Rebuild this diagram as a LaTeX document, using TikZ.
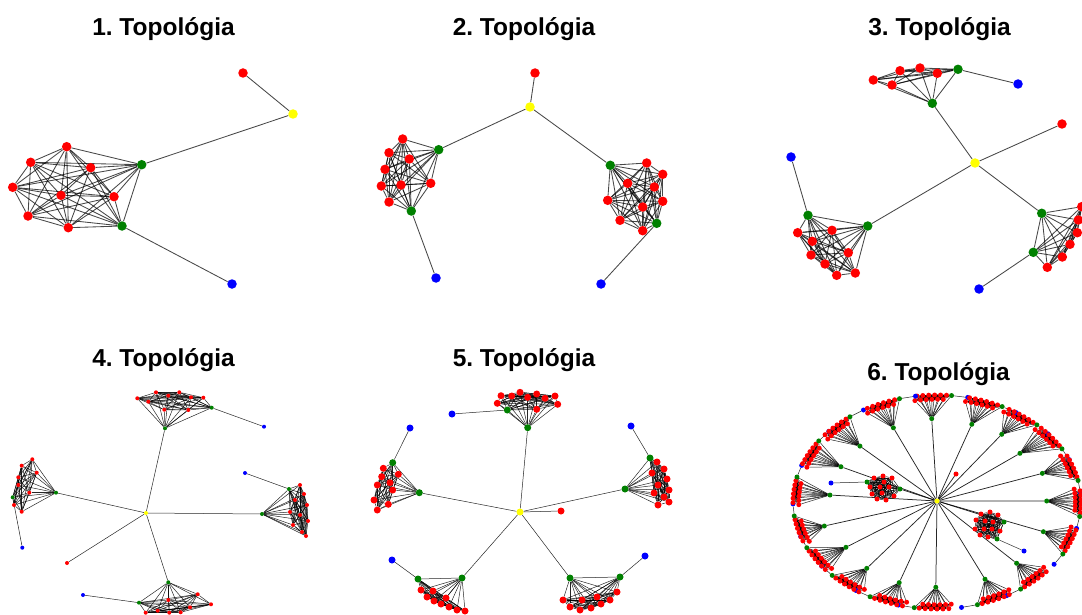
\documentclass[tikz,border=0pt]{standalone}
\usepackage{fontspec}
\setmainfont{Liberation Sans}
\frenchspacing
\pgfdeclarelayer{bg}\pgfsetlayers{bg,main}
\definecolor{nr}{RGB}{255,0,0}
\definecolor{ng}{RGB}{0,128,0}
\definecolor{nb}{RGB}{0,0,255}
\definecolor{ny}{RGB}{255,255,0}
\tikzset{
  edge/.style={draw=black, line width=0.85pt, opacity=0.72},
  edgeB/.style={draw=black, line width=0.5pt, opacity=0.85},
  dA/.style={circle, inner sep=0pt, minimum size=9.5pt, draw=none},
  dB/.style={circle, inner sep=0pt, minimum size=4pt, draw=none},
  dC/.style={circle, inner sep=0pt, minimum size=7pt, draw=none},
  dD/.style={circle, inner sep=0pt, minimum size=5pt, draw=none},
  ttl/.style={anchor=base, font=\bfseries\fontsize{24.5}{28}\selectfont},
}
% clique among #2 1..#3
\newcommand{\cl}[3][]{\foreach \ia in {1,...,#3}{\foreach \ib in {1,...,#3}{\ifnum\ib>\ia \draw[edge,#1] (#2\ia)--(#2\ib);\fi}}}
\newcommand{\mk}[3]{\foreach \x/\y/\c [count=\k] in {#3}{\node[#1,fill=\c] (#2\k) at (\x,\y) {};}}
\begin{document}
\begin{tikzpicture}[x=1pt,y=-1pt]
\useasboundingbox (0,0) rectangle (1082,615);
\begin{pgfonlayer}{bg}
\fill[white] (0,0) rectangle (1082,615);
\end{pgfonlayer}
% titles
\node[ttl] (h1) at (163.5,36) {1. Topológia};
\node[ttl] (h2) at (524,36) {2. Topológia};
\node[ttl] (h3) at (939.5,36) {3. Topológia};
\node[ttl] (h4) at (163.5,366) {4. Topológia};
\node[ttl] (h5) at (524,366) {5. Topológia};
\node[ttl] (h6) at (938.5,380) {6. Topológia};

% ---------- Topology 1
\mk{dA}{t1c}{66.7/146.7/nr,30.7/162.3/nr,90.7/167.7/nr,12.7/187.3/nr,61/195.3/nr,114/196.7/nr,28/216/nr,68.3/227.7/nr,141.7/164.7/ng,122/226/ng}
\node[dA,fill=ny] (t1y) at (293,114) {};
\node[dA,fill=nr] (t1r) at (243,73) {};
\node[dA,fill=nb] (t1b) at (232,284) {};
\begin{pgfonlayer}{bg}
\cl{t1c}{10}
\draw[edge] (t1y)--(t1r); \draw[edge] (t1y)--(t1c9); \draw[edge] (t1c10)--(t1b);
\end{pgfonlayer}

% ---------- Topology 2
\mk{dA}{t2a}{402.7/139/nr,389/152.7/nr,409.3/159/nr,385/169.3/nr,381.3/186/nr,401/185/nr,430.7/183.3/nr,389/202/nr,438.7/149.7/ng,411.3/211/ng}
\mk{dA}{t2b}{646.7/163/nr,662.7/174.3/nr,627.7/183.3/nr,654.3/187/nr,607.7/200.3/nr,662.7/201.3/nr,642.7/207/nr,620/220.3/nr,642.7/230.7/nr,610.3/165.3/ng,656.7/223.3/ng}
\node[dA,fill=ny] (t2y) at (530,107) {};
\node[dA,fill=nr] (t2r) at (535,73) {};
\node[dA,fill=nb] (t2xl) at (436,278) {};
\node[dA,fill=nb] (t2xr) at (601,284) {};
\begin{pgfonlayer}{bg}
\cl{t2a}{10}\cl{t2b}{11}
\draw[edge] (t2y)--(t2r); \draw[edge] (t2y)--(t2a9); \draw[edge] (t2a10)--(t2xl);
\draw[edge] (t2y)--(t2b10); \draw[edge] (t2b11)--(t2xr);
\end{pgfonlayer}

% ---------- Topology 3
\mk{dA}{t3a}{873.3/80/nr,900/70.7/nr,920/68/nr,937.3/73.3/nr,892/85/nr,958/69.3/ng,932.3/103.3/ng}
\mk{dA}{t3b}{797.7/232.7/nr,832/230.3/nr,812.3/241.3/nr,811/255/nr,848.3/252.7/nr,825/264/nr,836.7/275.3/nr,855.3/273/nr,808/215.3/ng,867.7/226/ng}
\mk{dA}{t3c}{1081.7/206.7/nr,1078.3/220/nr,1077.3/232.7/nr,1070/244.3/nr,1062.3/257/nr,1047.3/267.3/nr,1041.7/213.3/ng,1033.3/252.3/ng}
\node[dA,fill=ny] (t3y) at (975,163) {};
\node[dA,fill=nr] (t3r) at (1062,124) {};
\node[dA,fill=nb] (t3x1) at (1018,84) {};
\node[dA,fill=nb] (t3x2) at (791,157) {};
\node[dA,fill=nb] (t3x3) at (979,289) {};
\begin{pgfonlayer}{bg}
\cl{t3a}{7}\cl{t3b}{10}\cl{t3c}{8}
\draw[edge] (t3y)--(t3r); \draw[edge] (t3a6)--(t3x1); \draw[edge] (t3a7)--(t3y);
\draw[edge] (t3x2)--(t3b9); \draw[edge] (t3b10)--(t3y);
\draw[edge] (t3y)--(t3c7); \draw[edge] (t3c8)--(t3x3);
\end{pgfonlayer}

% ---------- Topology 4
\mk{dB}{t4a}{137.3/398.3/nr,156/392.3/nr,179.3/392.3/nr,168.3/395.7/nr,191/397.3/nr,203.3/397.7/nr,148.3/401.7/nr,164.3/409.7/nr,188.3/410/nr,211.7/407.7/ng,165/428.3/ng}
\mk{dB}{t4b}{32.3/459.3/nr,21.7/465.7/nr,36.7/472.7/nr,18.3/477.3/nr,18.3/485/nr,29.3/492.7/nr,14/505/nr,21.7/511.7/nr,12.7/497.3/ng,56/492.7/ng}
\mk{dB}{t4c}{300/485/nr,304/494/nr,295/500/nr,307/505/nr,290/512/nr,300/515/nr,308/521/nr,293/525/nr,302/532/nr,306/536/nr,289/489/ng,262/514/ng}
\mk{dB}{t4d}{197.7/594.3/nr,168.3/600/nr,190/607.3/nr,211/604.3/nr,157.7/610.7/nr,180.7/612.3/nr,145.7/612.7/nr,169.3/612.7/nr,139/602.7/ng,168.3/582.3/ng}
\node[dB,fill=ny] (t4y) at (146,513) {};
\node[dB,fill=nr] (t4r) at (67,563) {};
\node[dB,fill=nb] (t4xa) at (264,426.7) {};
\node[dB,fill=nb] (t4xb) at (22.3,547.7) {};
\node[dB,fill=nb] (t4xc) at (245,473) {};
\node[dB,fill=nb] (t4xd) at (83,595) {};
\begin{pgfonlayer}{bg}
\cl[edgeB]{t4a}{11}\cl[edgeB]{t4b}{10}\cl[edgeB]{t4c}{12}\cl[edgeB]{t4d}{10}
\draw[edgeB] (t4y)--(t4r);
\draw[edgeB] (t4y)--(t4a11); \draw[edgeB] (t4a10)--(t4xa);
\draw[edgeB] (t4y)--(t4b10); \draw[edgeB] (t4b9)--(t4xb);
\draw[edgeB] (t4y)--(t4c12); \draw[edgeB] (t4c11)--(t4xc);
\draw[edgeB] (t4y)--(t4d10); \draw[edgeB] (t4d9)--(t4xd);
\end{pgfonlayer}

% ---------- Topology 5
\mk{dC}{t5a}{501/395.7/nr,511.7/396/nr,520/392.3/nr,527.7/397.3/nr,536.7/394/nr,545/398.3/nr,555/396/nr,497.3/403.3/nr,536.7/409.3/nr,557.7/404.3/nr,507.3/410/ng,527.7/427.7/ng}
\mk{dC}{t5b}{383.3/468.3/nr,398.3/474.3/nr,381.7/476.7/nr,377.3/485/nr,390/482.7/nr,392.7/490/nr,374/500/nr,388.3/504.3/nr,377.3/510/nr,392.7/462.7/ng,419.3/492.7/ng}
\mk{dC}{t5c}{657/462/nr,664/469/nr,652/473/nr,667/479/nr,658/485/nr,669/490/nr,654/493/nr,664/497/nr,669/502/nr,658/505/nr,650/458/ng,625/489/ng}
\mk{dC}{t5d}{421/590/nr,427/597/nr,434/601/nr,441/604/nr,449/607/nr,457/610/nr,465/611/nr,433/591/nr,446/598/nr,418/579/ng,462/578/ng}
\mk{dC}{t5e}{563/600/nr,570/607/nr,580/610/nr,591/608/nr,601/604/nr,610/600/nr,617/592/nr,582/600/nr,597/597/nr,620/577/ng,570/578/ng}
\node[dC,fill=ny] (t5y) at (520,512) {};
\node[dC,fill=nr] (t5r) at (561,511) {};
\node[dC,fill=nb] (t5xa) at (452,414) {};
\node[dC,fill=nb] (t5xb) at (410,428) {};
\node[dC,fill=nb] (t5xc) at (631,426) {};
\node[dC,fill=nb] (t5xd) at (392,560) {};
\node[dC,fill=nb] (t5xe) at (645,556) {};
\begin{pgfonlayer}{bg}
\cl[edgeB]{t5a}{12}\cl[edgeB]{t5b}{11}\cl[edgeB]{t5c}{12}\cl[edgeB]{t5d}{11}\cl[edgeB]{t5e}{11}
\draw[edgeB] (t5y)--(t5r);
\draw[edgeB] (t5y)--(t5a12); \draw[edgeB] (t5a11)--(t5xa);
\draw[edgeB] (t5y)--(t5b11); \draw[edgeB] (t5b10)--(t5xb);
\draw[edgeB] (t5y)--(t5c12); \draw[edgeB] (t5c11)--(t5xc);
\draw[edgeB] (t5y)--(t5d11); \draw[edgeB] (t5d10)--(t5xd);
\draw[edgeB] (t5y)--(t5e11); \draw[edgeB] (t5e10)--(t5xe);
\end{pgfonlayer}

% ---------- Topology 6
\node[dD,fill=ny] (s6y) at (937,501) {};
\foreach \a/\r [count=\c] in {92.7/0.78,71.6/0.765,54.6/0.776,38.3/0.734,20.1/0.779,0.7/0.762,-20.6/0.789,-46/0.796,-65.2/0.795,-90.6/0.797,-109.2/0.798,-128.2/0.789,-146.2/0.761,-164/0.814,175/0.746,153.7/0.744,135.7/0.748,113.6/0.757}{
  \node[dD,fill=ng] (s6-\c-a) at ({937+144*\r*cos(\a)},{502-107*\r*sin(\a)}) {};
  \foreach \k in {1,...,12}{
    \pgfmathsetmacro{\ang}{\a+6.5-(\k-1)*1.18}
    \pgfmathsetmacro{\rad}{ifthenelse(mod(\k,2)==0,1.0,0.96)}
    \node[dD,fill=nr] (s6-\c-\k) at ({937+144*\rad*cos(\ang)},{502-107*\rad*sin(\ang)}) {};
  }
  \pgfmathsetmacro{\ang}{\a-8.5}
  \node[dD,fill=ng] (s6-\c-13) at ({937+144*cos(\ang)},{502-107*sin(\ang)}) {};
  \pgfmathsetmacro{\ang}{\a-15}
  \node[dD,fill=nb] (s6-\c-b) at ({937+144*cos(\ang)},{502-107*sin(\ang)}) {};
}
\mk{dD}{s6p}{870/487/nr,874/478/nr,883/476/nr,892/478/nr,872/494/nr,877/499/nr,886/500/nr,894/496/nr,880/487/nr,889/487/nr,884/482/nr,882/493/nr,900/489/ng,867/482/ng}
\mk{dD}{s6q}{976/520/nr,981/514/nr,990/512/nr,998/515/nr,975/529/nr,980/535/nr,988/537/nr,1000/531/nr,985/521/nr,993/522/nr,984/529/nr,992/529/nr,1004/522/ng,997/539/ng}
\node[dD,fill=nr] (s6r) at (956,474) {};
\node[dD,fill=nb] (s6pb) at (831,483) {};
\node[dD,fill=nb] (s6qb) at (1024,551) {};
\begin{pgfonlayer}{bg}
\foreach \c in {1,...,18}{
  \cl[edgeB]{s6-\c-}{13}
  \foreach \k in {1,...,13}{\draw[edgeB] (s6-\c-a)--(s6-\c-\k);}
  \draw[edgeB,line width=0.75pt] (s6y)--(s6-\c-a);
  \draw[edgeB] (s6-\c-13)--(s6-\c-b);
}
\cl[edgeB]{s6p}{14}\cl[edgeB]{s6q}{14}
\draw[edgeB,line width=0.75pt] (s6y)--(s6r);
\draw[edgeB,line width=0.75pt] (s6y)--(s6p13); \draw[edgeB] (s6p14)--(s6pb);
\draw[edgeB,line width=0.75pt] (s6y)--(s6q13); \draw[edgeB] (s6q14)--(s6qb);
\end{pgfonlayer}
\end{tikzpicture}
\end{document}
